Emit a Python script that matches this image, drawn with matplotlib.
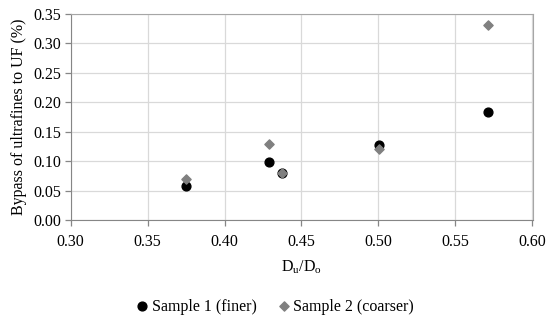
import numpy as np
import matplotlib.pyplot as plt

plt.rcParams['font.family'] = ['Liberation Serif', 'DejaVu Serif']

# D_u/D_o ratios
ratio = [0.375, 0.4286, 0.4375, 0.5, 0.5714]
sample1 = [0.058, 0.098, 0.080, 0.128, 0.183]  # finer
sample2 = [0.070, 0.129, 0.080, 0.120, 0.331]  # coarser

fig = plt.figure(figsize=(5.5, 3.21), dpi=100)
ax = fig.add_axes([70.5 / 550, 1 - 220 / 321, 462 / 550, 206 / 321])

ax.scatter(ratio, sample1, marker='o', s=40, color='black', zorder=3, label='Sample 1 (finer)')
ax.scatter(ratio, sample2, marker='D', s=22, color='#808080', zorder=4, label='Sample 2 (coarser)')

ax.set_xlim(0.30, 0.60)
ax.set_ylim(0.0, 0.35)
ax.set_xticks(np.arange(0.30, 0.601, 0.05))
ax.set_yticks(np.arange(0.0, 0.351, 0.05))
ax.xaxis.set_major_formatter(plt.FormatStrFormatter('%.2f'))
ax.yaxis.set_major_formatter(plt.FormatStrFormatter('%.2f'))
ax.grid(True, color='#d9d9d9', linewidth=0.9, zorder=0)
ax.set_axisbelow(True)

for side in ['top', 'right']:
    ax.spines[side].set_color('#a6a6a6')
for side in ['left', 'bottom']:
    ax.spines[side].set_color('#868686')
ax.tick_params(axis='both', colors='#868686', labelcolor='black', labelsize=11.5, length=4, width=0.9)
ax.tick_params(axis='x', pad=6)
ax.tick_params(axis='y', pad=3)

ax.set_xlabel('D$_\\mathregular{u}$/D$_\\mathregular{o}$', fontsize=11.5, labelpad=6)
ax.set_ylabel('Bypass of ultrafines to UF (%)', fontsize=11.5, labelpad=4)

fig.legend(loc='lower center', bbox_to_anchor=(0.5, -0.025), ncol=2, frameon=False,
           fontsize=11.5, handlelength=0.8, handletextpad=0.2, columnspacing=1.3)

fig.savefig('out.png', dpi=100)
